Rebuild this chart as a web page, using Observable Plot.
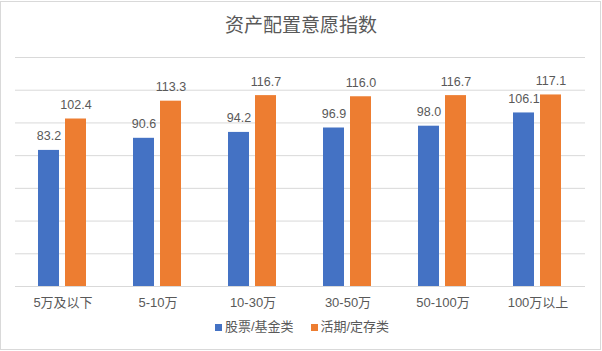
<!DOCTYPE html>
<html><head><meta charset="utf-8">
<script src="https://cdn.jsdelivr.net/npm/d3@7"></script>
<script src="https://cdn.jsdelivr.net/npm/@observablehq/plot@0.6"></script>
<style>
body{margin:0;background:#fff;font-family:"Liberation Sans","Noto Sans CJK SC",sans-serif;}
#frame{position:absolute;left:0;top:1px;width:601px;height:349px;box-sizing:border-box;border:1px solid #d9d9d9;}
#title{position:absolute;left:0;top:16px;width:602px;text-align:center;font-size:19px;line-height:20px;color:#595959;}
#chart{position:absolute;left:0;top:45px;}
#legend{position:absolute;left:0;top:318px;width:604px;display:flex;justify-content:center;align-items:center;font-size:13px;line-height:18px;color:#595959;}
.item{display:flex;align-items:center;}
.item + .item{margin-left:17px;}
.sw{width:7px;height:7px;margin-right:3px;}
</style>
</head><body>
<div id="frame"></div>
<div id="title">资产配置意愿指数</div>
<div id="chart"></div>
<div id="legend"></div>
<script>
const categories = ["5万及以下","5-10万","10-30万","30-50万","50-100万","100万以上"];
const seriesNames = ["股票/基金类","活期/定存类"];
const stockFund = [83.2, 90.6, 94.2, 96.9, 98.0, 106.1];
const depositSavings = [102.4, 113.3, 116.7, 116.0, 116.7, 117.1];
const yTicks = [0, 20, 40, 60, 80, 100, 120, 140];
const colors = ["#4472C4", "#ED7D31"];

const data = [];
categories.forEach((c, i) => {
  data.push({category: c, series: seriesNames[0], value: stockFund[i]});
  data.push({category: c, series: seriesNames[1], value: depositSavings[i]});
});

const chart = Plot.plot({
  width: 602,
  height: 271,
  marginTop: 12,
  marginBottom: 30,
  marginLeft: 15,
  marginRight: 17,
  style: {fontFamily: '"Liberation Sans","Noto Sans CJK SC",sans-serif', fontSize: "13px", color: "#595959", background: "transparent"},
  fx: {domain: categories, padding: 0, axis: "bottom", tickSize: 0, tickPadding: 11, label: null},
  x: {domain: seriesNames, paddingInner: 0.222, paddingOuter: 0.87, axis: null},
  y: {domain: [0, 140], axis: null},
  color: {domain: seriesNames, range: colors},
  marks: [
    Plot.ruleY(yTicks, {stroke: "#d9d9d9", strokeWidth: 1}),
    Plot.barY(data, {fx: "category", x: "series", y: "value", fill: "series"}),
    Plot.text(data, {fx: "category", x: "series", y: "value", text: d => d3.format(".1f")(d.value), lineAnchor: "bottom", dy: -10, fill: "#595959", fontSize: 12.5})
  ]
});
document.getElementById("chart").appendChild(chart);

const legend = document.getElementById("legend");
seriesNames.forEach((s, i) => {
  const item = document.createElement("div");
  item.className = "item";
  const sw = document.createElement("div");
  sw.className = "sw";
  sw.style.background = colors[i];
  const t = document.createElement("span");
  t.textContent = s;
  item.appendChild(sw);
  item.appendChild(t);
  legend.appendChild(item);
});
</script>
</body></html>
